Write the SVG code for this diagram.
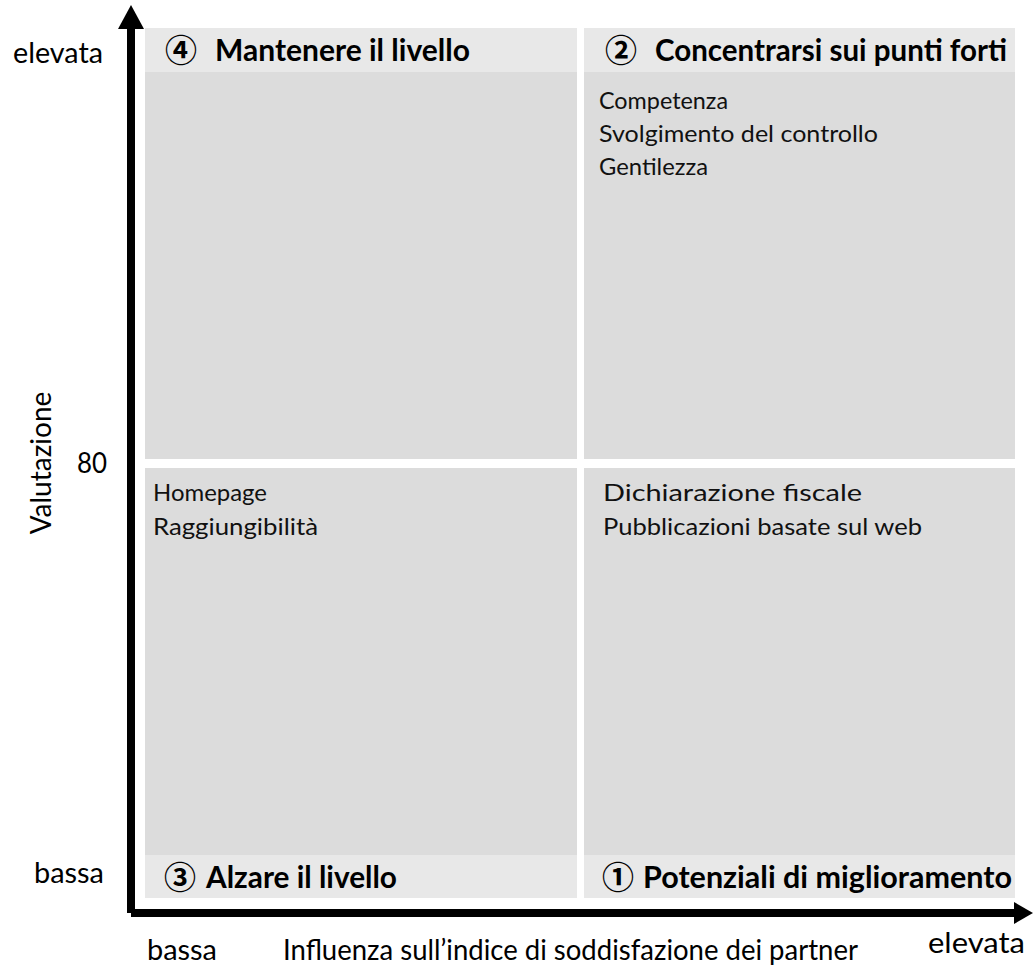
<svg xmlns="http://www.w3.org/2000/svg" width="1033" height="976" viewBox="0 0 1033 976">
<style>
.hdr{fill:#e8e8e8}
.body{fill:#dcdcdc}
.title{font-family:Lato,"Liberation Sans",sans-serif;font-weight:bold;font-size:30px;fill:#000}
.num{font-family:"Noto Sans CJK JP","DejaVu Sans",sans-serif;font-weight:bold;font-size:32px;fill:#000}
.item{font-family:Lato,"Liberation Sans",sans-serif;font-size:23px;fill:#111}
.axis{font-family:Lato,"Liberation Sans",sans-serif;font-size:28px;fill:#000}
.ax{fill:#000}
</style>
<rect width="1033" height="976" fill="#fff"/>
<g id="q4">
<rect class="body" x="145" y="72" width="432" height="387"/>
<rect class="hdr" x="145" y="28" width="432" height="44"/>
<text class="num" x="165" y="62">④</text>
<text class="title" x="215" y="61" textLength="255" lengthAdjust="spacingAndGlyphs">Mantenere il livello</text>
</g>
<g id="q2">
<rect class="body" x="584" y="72" width="431" height="387"/>
<rect class="hdr" x="584" y="28" width="431" height="44"/>
<text class="num" x="605" y="62">②</text>
<text class="title" x="655" y="61" textLength="352" lengthAdjust="spacingAndGlyphs">Concentrarsi sui punti forti</text>
<text class="item" x="599" y="109" textLength="129" lengthAdjust="spacingAndGlyphs">Competenza</text>
<text class="item" x="599" y="142" textLength="279" lengthAdjust="spacingAndGlyphs">Svolgimento del controllo</text>
<text class="item" x="599" y="175" textLength="109" lengthAdjust="spacingAndGlyphs">Gentilezza</text>
</g>
<g id="q3">
<rect class="body" x="145" y="468" width="432" height="387"/>
<rect class="hdr" x="145" y="855" width="432" height="43"/>
<text class="num" x="164" y="889">③</text>
<text class="title" x="206" y="888" textLength="191" lengthAdjust="spacingAndGlyphs">Alzare il livello</text>
<text class="item" x="153" y="501" textLength="114" lengthAdjust="spacingAndGlyphs">Homepage</text>
<text class="item" x="153" y="535" textLength="165" lengthAdjust="spacingAndGlyphs">Raggiungibilità</text>
</g>
<g id="q1">
<rect class="body" x="584" y="468" width="431" height="387"/>
<rect class="hdr" x="584" y="855" width="431" height="43"/>
<text class="num" x="602" y="889">①</text>
<text class="title" x="643" y="888" textLength="369" lengthAdjust="spacingAndGlyphs">Potenziali di miglioramento</text>
<text class="item" x="603" y="501" textLength="259" lengthAdjust="spacingAndGlyphs">Dichiarazione fiscale</text>
<text class="item" x="603" y="535" textLength="319" lengthAdjust="spacingAndGlyphs">Pubblicazioni basate sul web</text>
</g>
<g id="connectors">
<rect class="ax" x="127" y="27" width="8" height="886"/>
<polygon class="ax" points="131,5 144,29 118,29"/>
<rect class="ax" x="131" y="909" width="885" height="8"/>
<polygon class="ax" points="1033,913 1014,902 1014,924"/>
</g>
<g id="labels">
<text class="axis" x="13" y="63" textLength="90" lengthAdjust="spacingAndGlyphs">elevata</text>
<text class="axis" x="34" y="883" textLength="70" lengthAdjust="spacingAndGlyphs">bassa</text>
<text class="axis" x="77" y="473" textLength="30" lengthAdjust="spacingAndGlyphs">80</text>
<text class="axis" transform="translate(51,463) rotate(-90)" text-anchor="middle">Valutazione</text>
<text class="axis" x="147" y="960" textLength="70" lengthAdjust="spacingAndGlyphs">bassa</text>
<text class="axis" x="283" y="960" textLength="575" lengthAdjust="spacingAndGlyphs">Influenza sull’indice di soddisfazione dei partner</text>
<text class="axis" x="928" y="953" textLength="97" lengthAdjust="spacingAndGlyphs">elevata</text>
</g>
</svg>
